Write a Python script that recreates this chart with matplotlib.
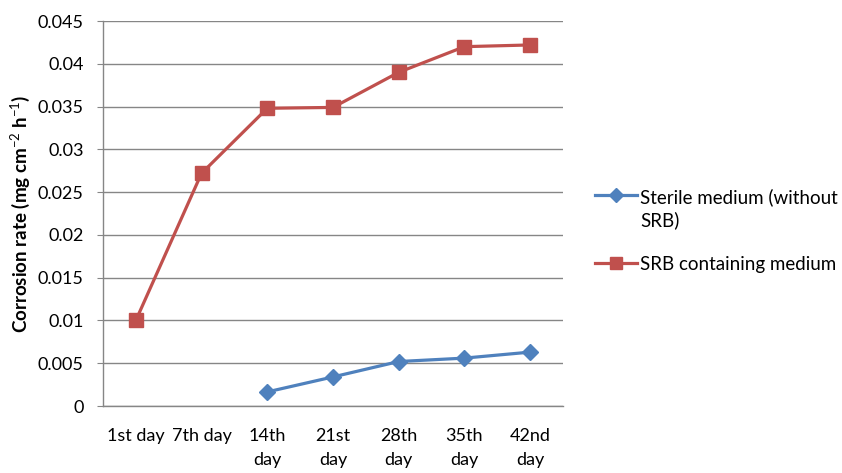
import matplotlib.pyplot as plt
from matplotlib.lines import Line2D

plt.rcParams['font.family'] = ['Lato', 'DejaVu Sans']
plt.rcParams['mathtext.fontset'] = 'custom'
plt.rcParams['mathtext.rm'] = 'Lato'
plt.rcParams['mathtext.it'] = 'Lato:italic'
plt.rcParams['mathtext.bf'] = 'Lato:bold'

# sampling days
days = ["1st day", "7th day", "14th\nday", "21st\nday", "28th\nday", "35th\nday", "42nd\nday"]

# corrosion rate, mg cm-2 h-1 (sterile series starts at day 14)
sterile_idx = [2, 3, 4, 5, 6]
sterile = [0.00165, 0.0034, 0.0052, 0.0056, 0.0063]
srb = [0.0100, 0.0272, 0.0348, 0.0349, 0.0390, 0.0420, 0.0422]

blue = '#4F81BD'
red = '#C0504D'
grid_c = '#868686'

fig = plt.figure(figsize=(8.42, 4.73), dpi=100)
ax = fig.add_axes([0.1223, 0.1416, 0.5463, 0.814])

x = list(range(len(days)))
ax.plot(sterile_idx, sterile, color=blue, lw=2.3, marker='D', ms=8,
        mfc=blue, mec=blue, zorder=3)
ax.plot(x, srb, color=red, lw=2.3, marker='s', ms=10,
        mfc=red, mec=red, zorder=3)

ax.set_xlim(-0.5, len(days) - 0.5)
ax.set_ylim(0, 0.045)
yt = [i * 0.005 for i in range(10)]
ax.set_yticks(yt)
ax.set_yticklabels(['0', '0.005', '0.01', '0.015', '0.02', '0.025',
                    '0.03', '0.035', '0.04', '0.045'])
ax.set_xticks(x)
ax.set_xticklabels(days, linespacing=1.6)
ax.yaxis.grid(True, color=grid_c, lw=1)
ax.set_axisbelow(True)

for s in ['top', 'right']:
    ax.spines[s].set_visible(False)
for s in ['left', 'bottom']:
    ax.spines[s].set_color(grid_c)
    ax.spines[s].set_linewidth(1)

ax.tick_params(axis='y', length=4, color=grid_c, labelsize=13, pad=10)
ax.tick_params(axis='x', length=0, labelsize=13, pad=16)

ax.set_ylabel('Corrosion rate (mg cm$^{-2}$ h$^{-1}$)', fontsize=13.5,
              fontweight='bold', labelpad=4)

# legend drawn by hand so the marker sits on the first text line
for yy, col, mk, ms, label in [(0.588, blue, 'D', 7, 'Sterile medium (without\nSRB)'),
                               (0.444, red, 's', 9, 'SRB containing medium')]:
    fig.add_artist(Line2D([0.707, 0.757], [yy, yy], color=col, lw=2.3,
                          transform=fig.transFigure))
    fig.add_artist(Line2D([0.732], [yy], color=col, marker=mk, ms=ms,
                          transform=fig.transFigure))
    fig.text(0.760, yy + 0.014, label, fontsize=13.5, va='top', ha='left',
             linespacing=1.35)

fig.savefig('out.png', dpi=100)
